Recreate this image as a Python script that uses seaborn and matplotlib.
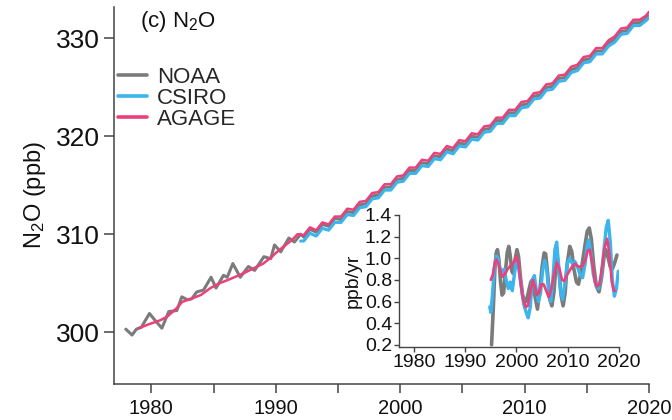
import numpy as np
import pandas as pd
import matplotlib
matplotlib.use("Agg")
import matplotlib.pyplot as plt
from matplotlib import font_manager
import seaborn as sns

# ---- main panel: N2O mole fraction (ppb) ----
noaa_early_yr = [1977.95, 1978.45, 1978.8, 1979.2, 1979.85, 1980.3, 1980.85, 1981.4, 1982.05,
                 1982.45, 1982.9, 1983.25, 1983.65, 1984.2, 1984.8, 1985.2, 1985.8, 1986.1,
                 1986.55, 1987.15, 1987.8, 1988.3, 1989.05, 1989.6, 1989.9, 1990.4, 1991.05,
                 1991.5, 1992.0]
noaa_early = [300.3, 299.7, 300.3, 300.5, 301.9, 301.2, 300.4, 302.1, 302.2,
              303.6, 303.3, 303.4, 304.1, 304.3, 305.6, 304.5, 305.8, 305.6,
              307.0, 305.6, 306.7, 306.3, 307.7, 307.5, 308.9, 308.2, 309.6,
              309.2, 310.0]

agage_early_yr = [1979.0, 1979.8, 1980.7, 1981.3, 1982.0, 1982.5, 1983.2, 1984.0, 1984.75,
                  1985.5, 1986.3, 1987.4, 1988.2, 1989.0, 1989.6, 1990.2, 1990.8, 1991.3, 1991.75]
agage_early = [300.4, 300.8, 301.2, 301.6, 302.4, 303.1, 303.4, 303.8, 304.5,
               305.0, 305.4, 306.0, 306.5, 307.0, 307.6, 308.3, 308.9, 309.4, 310.0]

# half-year samples 1992.25 ... 2019.75 (seasonal trough / peak)
semi_yr = list(np.arange(1992.25, 2020.0, 0.5))

agage_semi = [309.9, 310.7, 310.4, 311.2, 311.0, 311.8, 311.8, 312.6, 312.5, 313.3,
              313.4, 314.2, 314.3, 315.1, 315.1, 315.9, 316.0, 316.8, 316.8, 317.6,
              317.5, 318.3, 318.2, 319.0, 318.8, 319.6, 319.5, 320.3, 320.2, 321.0,
              321.1, 321.9, 321.9, 322.7, 322.7, 323.5, 323.6, 324.4, 324.5, 325.3,
              325.4, 326.2, 326.3, 327.1, 327.3, 328.1, 328.2, 329.0, 329.0, 329.8,
              330.2, 331.0, 331.1, 331.9, 331.9, 332.3]
noaa_semi = [309.7, 310.5, 310.2, 311.0, 310.8, 311.6, 311.5, 312.3, 312.2, 313.0,
             313.1, 313.9, 314.0, 314.8, 314.8, 315.6, 315.7, 316.5, 316.5, 317.3,
             317.2, 318.0, 317.9, 318.7, 318.5, 319.3, 319.2, 320.0, 319.9, 320.7,
             320.8, 321.6, 321.6, 322.4, 322.4, 323.2, 323.3, 324.1, 324.2, 325.0,
             325.1, 325.9, 326.0, 326.8, 327.0, 327.8, 327.9, 328.7, 328.7, 329.5,
             329.9, 330.7, 330.8, 331.6, 331.6, 332.0]
csiro_semi = [309.3, 310.1, 309.8, 310.6, 310.4, 311.2, 311.2, 312.0, 311.9, 312.7,
              312.8, 313.6, 313.7, 314.5, 314.5, 315.3, 315.4, 316.2, 316.2, 317.0,
              316.9, 317.7, 317.6, 318.4, 318.2, 319.0, 318.9, 319.7, 319.6, 320.4,
              320.5, 321.3, 321.3, 322.1, 322.1, 322.9, 323.0, 323.8, 323.9, 324.7,
              324.8, 325.6, 325.7, 326.5, 326.7, 327.5, 327.6, 328.4, 328.4, 329.2,
              329.6, 330.4, 330.5, 331.3, 331.3, 331.8]

noaa_yr = noaa_early_yr + semi_yr + [2019.9]
noaa_val = noaa_early + noaa_semi + [332.3]
csiro_yr = [1992.0] + semi_yr + [2020.0]
csiro_val = [309.3] + csiro_semi + [332.1]
agage_yr = agage_early_yr + semi_yr + [2020.0]
agage_val = agage_early + agage_semi + [332.7]

# ---- inset: growth rate (ppb/yr) ----
g_noaa_yr = [1995.15, 1995.5, 1995.8, 1996.05, 1996.3, 1996.6, 1996.9, 1997.2, 1997.5, 1997.8,
             1998.2, 1998.5, 1998.8, 1999.1, 1999.35, 1999.7, 2000.1, 2000.4, 2000.8, 2001.2,
             2001.6, 2001.9, 2002.4, 2002.8, 2003.1, 2003.5, 2004.1, 2004.6, 2005.0, 2005.4,
             2005.7, 2006.1, 2006.5, 2006.9, 2007.3, 2007.7, 2008.0, 2008.3, 2008.7, 2009.1,
             2009.5, 2009.9, 2010.4, 2010.8, 2011.2, 2011.7, 2012.1, 2012.6, 2013.3, 2013.8,
             2014.2, 2014.6, 2015.1, 2015.6, 2016.1, 2016.6, 2017.1, 2017.4, 2017.8, 2018.3,
             2018.7, 2019.1, 2019.6]
g_noaa = [0.20, 0.55, 0.90, 1.05, 1.08, 0.98, 0.78, 0.66, 0.68, 0.85,
          1.05, 1.11, 1.02, 0.88, 0.86, 0.98, 1.08, 1.02, 0.82, 0.66,
          0.60, 0.60, 0.70, 0.78, 0.80, 0.68, 0.53, 0.72, 0.92, 1.05,
          1.04, 0.85, 0.62, 0.56, 0.68, 0.92, 1.00, 0.88, 0.66, 0.56,
          0.68, 0.95, 1.11, 1.06, 0.90, 0.78, 0.76, 0.88, 1.10, 1.25,
          1.28, 1.18, 0.92, 0.74, 0.69, 0.82, 1.02, 1.08, 1.02, 0.92,
          0.90, 0.95, 1.03]

g_csiro_yr = [1994.8, 1995.0, 1995.3, 1995.7, 1996.1, 1996.4, 1996.8, 1997.2, 1997.6, 1998.0,
              1998.4, 1998.8, 1999.2, 1999.6, 2000.0, 2000.4, 2000.9, 2001.4, 2001.9, 2002.3,
              2002.7, 2003.1, 2003.5, 2003.9, 2004.3, 2004.7, 2005.1, 2005.5, 2005.9, 2006.3,
              2006.7, 2007.1, 2007.5, 2007.85, 2008.2, 2008.6, 2009.0, 2009.4, 2009.9, 2010.4,
              2010.9, 2011.4, 2011.9, 2012.4, 2012.9, 2013.4, 2013.8, 2014.1, 2014.5, 2015.0,
              2015.5, 2016.0, 2016.5, 2017.0, 2017.5, 2017.9, 2018.3, 2018.7, 2019.1, 2019.5,
              2019.85]
g_csiro = [0.55, 0.50, 0.65, 0.92, 1.02, 1.00, 0.90, 0.88, 0.90, 0.80,
           0.72, 0.78, 0.70, 0.85, 0.98, 0.92, 0.75, 0.58, 0.50, 0.45,
           0.55, 0.80, 0.84, 0.70, 0.60, 0.68, 0.88, 0.98, 0.90, 0.68,
           0.60, 0.80, 1.08, 1.15, 0.95, 0.70, 0.62, 0.75, 0.95, 1.00,
           0.95, 0.97, 0.92, 0.85, 0.82, 0.95, 1.12, 1.17, 1.05, 0.85,
           0.75, 0.72, 0.82, 1.05, 1.28, 1.35, 1.15, 0.80, 0.65, 0.72,
           0.88]

g_agage_yr = [1995.0, 1995.4, 1995.8, 1996.1, 1996.5, 1996.9, 1997.3, 1997.8, 1998.3, 1998.8,
              1999.3, 1999.7, 2000.0, 2000.4, 2000.8, 2001.3, 2001.8, 2002.2, 2002.7, 2003.2,
              2003.6, 2004.0, 2004.4, 2004.9, 2005.3, 2005.8, 2006.3, 2006.8, 2007.3, 2007.9,
              2008.4, 2008.9, 2009.3, 2009.8, 2010.3, 2010.8, 2011.4, 2011.9, 2012.4, 2012.9,
              2013.4, 2013.9, 2014.3, 2014.8, 2015.3, 2015.7, 2016.2, 2016.7, 2017.2, 2017.7,
              2018.1, 2018.6, 2019.0, 2019.25]
g_agage = [0.80, 0.85, 0.96, 0.99, 0.95, 0.88, 0.83, 0.86, 0.90, 0.93,
           0.95, 0.98, 1.02, 0.95, 0.78, 0.62, 0.55, 0.56, 0.68, 0.80,
           0.74, 0.66, 0.68, 0.76, 0.76, 0.70, 0.64, 0.72, 0.85, 0.96,
           0.90, 0.80, 0.79, 0.84, 0.88, 0.92, 0.95, 0.93, 0.92, 0.93,
           0.98, 1.07, 1.08, 0.95, 0.78, 0.74, 0.76, 0.92, 1.10, 1.18,
           1.05, 0.78, 0.70, 0.70]

colors = {"NOAA": "#7b7b7b", "CSIRO": "#3cb4ec", "AGAGE": "#ec3f7c"}

sns.set_style("ticks")
available = {f.name for f in font_manager.fontManager.ttflist}
base_font = "Liberation Sans Narrow" if "Liberation Sans Narrow" in available else "Liberation Sans"
plt.rcParams["font.family"] = [base_font, "DejaVu Sans"]
plt.rcParams["mathtext.fontset"] = "custom"
plt.rcParams["mathtext.rm"] = base_font
plt.rcParams["mathtext.it"] = base_font

fig = plt.figure(figsize=(6.72, 4.2), dpi=100)
ax = fig.add_axes([114 / 672, 1 - 384 / 420, 535 / 672, 377 / 420])

series = [("NOAA", noaa_yr, noaa_val, 2.2),
          ("CSIRO", csiro_yr, csiro_val, 2.2),
          ("AGAGE", agage_yr, agage_val, 1.8)]
for name, yr, val, lw in series:
    d = pd.DataFrame({"year": yr, "n2o": val})
    sns.lineplot(data=d, x="year", y="n2o", ax=ax, color=colors[name], lw=lw,
                 label=name, estimator=None, sort=False)

ax.set_xlim(1977.0, 2020.0)
ax.set_ylim(294.7, 333.2)
ax.set_xticks([1980, 1985, 1990, 1995, 2000, 2005, 2010, 2015, 2020])
ax.set_xticklabels(["1980", "", "1990", "", "2000", "", "2010", "", "2020"])
ax.set_yticks([300, 310, 320, 330])
ax.tick_params(axis="y", labelsize=19, length=7, width=1.1, pad=3, colors="#444", labelcolor="#111")
ax.tick_params(axis="x", labelsize=14.5, length=6.5, width=1.1, pad=4, colors="#444", labelcolor="#111")
ax.set_xlabel("")
ax.set_ylabel("N$_2$O (ppb)", fontsize=17, color="#111", labelpad=6)
for s in ["top", "right"]:
    ax.spines[s].set_visible(False)
for s in ["left", "bottom"]:
    ax.spines[s].set_linewidth(1.1)
    ax.spines[s].set_color("#444")

fig.text(140 / 672, 1 - 9 / 420, "(c) N$_2$O", fontsize=16, color="#111", va="top", ha="left")

leg = ax.legend(loc="upper left", bbox_to_anchor=(118 / 672, 1 - 67 / 420),
                bbox_transform=fig.transFigure, frameon=False, fontsize=16,
                handlelength=1.3, handletextpad=0.45, labelspacing=0.0,
                borderpad=0, borderaxespad=0)
for h in leg.get_lines():
    h.set_linewidth(2.6)

# ---- inset ----
axi = fig.add_axes([399 / 672, 1 - 347 / 420, 220 / 672, 132 / 420])
axi.patch.set_alpha(0)
for name, yr, val, lw in [("NOAA", g_noaa_yr, g_noaa, 2.6),
                          ("CSIRO", g_csiro_yr, g_csiro, 2.4),
                          ("AGAGE", g_agage_yr, g_agage, 1.9)]:
    d = pd.DataFrame({"year": yr, "rate": val})
    sns.lineplot(data=d, x="year", y="rate", ax=axi, color=colors[name], lw=lw,
                 estimator=None, sort=False, legend=False)
axi.set_xlim(1977.1, 2020.0)
axi.set_ylim(0.18, 1.4)
axi.set_xticks([1980, 1990, 2000, 2010, 2020])
axi.set_yticks([0.2, 0.4, 0.6, 0.8, 1.0, 1.2, 1.4])
axi.set_yticklabels(["0.2", "0.4", "0.6", "0.8", "1.0", "1.2", "1.4"])
axi.tick_params(labelsize=14, length=3.5, width=1.0, pad=1.5, colors="#444", labelcolor="#111")
axi.set_xlabel("")
axi.set_ylabel("ppb/yr", fontsize=14, color="#111", labelpad=2)
for s in ["top", "right"]:
    axi.spines[s].set_visible(False)
for s in ["left", "bottom"]:
    axi.spines[s].set_linewidth(1.0)
    axi.spines[s].set_color("#444")

fig.savefig("out.png", dpi=100)
